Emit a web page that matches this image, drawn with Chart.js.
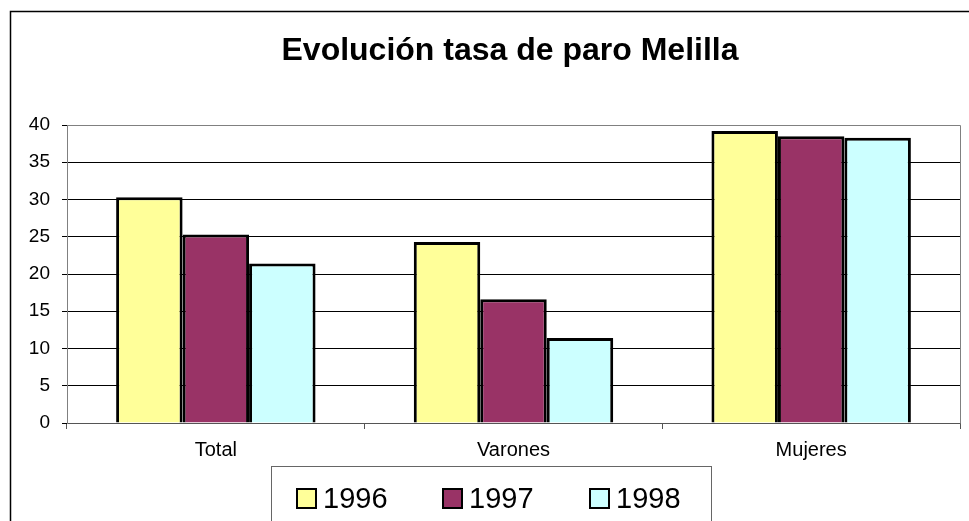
<!DOCTYPE html>
<html lang="es">
    <head>
        <meta charset="UTF-8" />
        <title>Evolución tasa de paro Melilla</title>
        <script src="https://cdn.jsdelivr.net/npm/chart.js"></script>
        <style>
            html,
            body {
                margin: 0;
                padding: 0;
                background: #fff;
                overflow: hidden;
            }
            .chart-container {
                position: relative;
                width: 969px;
                height: 521px;
            }
        </style>
    </head>
    <body>
        <div class="chart-container">
            <canvas id="paroChart"></canvas>
        </div>

        <script>
            const chartTitle = "Evolución tasa de paro Melilla";
            const categories = ["Total", "Varones", "Mujeres"];
            const years = ["1996", "1997", "1998"];
            const values1996 = [30.3, 24.3, 39.2];
            const values1997 = [25.3, 16.6, 38.5];
            const values1998 = [21.4, 11.4, 38.3];
            const yMin = 0;
            const yMax = 40;
            const yStep = 5;

            const fontFamily = "Arial, 'Liberation Sans', sans-serif";
            Chart.defaults.font.family = fontFamily;
            Chart.defaults.color = "#000";

            // outer frame, title, plot border and the boxed legend
            const framePlugin = {
                id: "frame",
                beforeDraw(chart) {
                    const ctx = chart.ctx;
                    ctx.save();
                    ctx.fillStyle = "#fff";
                    ctx.fillRect(0, 0, chart.width, chart.height);
                    ctx.strokeStyle = "#000";
                    ctx.lineWidth = 1.5;
                    ctx.strokeRect(10.5, 11.5, 2000, 2000);
                    ctx.restore();
                },
                afterDraw(chart) {
                    const ctx = chart.ctx;
                    const area = chart.chartArea;
                    ctx.save();

                    // top and right edge of plot area
                    ctx.strokeStyle = "#808080";
                    ctx.lineWidth = 1;
                    ctx.beginPath();
                    ctx.moveTo(Math.round(area.left) + 0.5, Math.round(area.top) + 0.5);
                    ctx.lineTo(Math.round(area.right) + 0.5, Math.round(area.top) + 0.5);
                    ctx.lineTo(Math.round(area.right) + 0.5, Math.round(area.bottom) + 0.5);
                    ctx.stroke();

                    // title
                    ctx.fillStyle = "#000";
                    ctx.font = "bold 32px " + fontFamily;
                    ctx.textAlign = "center";
                    ctx.textBaseline = "alphabetic";
                    ctx.fillText(chartTitle, 510, 60);

                    // legend box
                    ctx.strokeStyle = "#666";
                    ctx.lineWidth = 1;
                    ctx.strokeRect(271.5, 466.5, 440, 200);

                    ctx.font = "29px " + fontFamily;
                    ctx.textAlign = "left";
                    const itemX = [297, 443, 590];
                    chart.data.datasets.forEach((ds, i) => {
                        const x = itemX[i];
                        ctx.fillStyle = ds.backgroundColor;
                        ctx.fillRect(x, 489, 19, 19);
                        ctx.strokeStyle = "#000";
                        ctx.lineWidth = 2;
                        ctx.strokeRect(x, 489, 19, 19);
                        ctx.fillStyle = "#000";
                        ctx.fillText(ds.label, x + 26, 508);
                    });
                    ctx.restore();
                },
            };

            const ctx = document.getElementById("paroChart").getContext("2d");
            const colors = ["#FFFF99", "#993366", "#CCFFFF"];
            const seriesValues = [values1996, values1997, values1998];

            new Chart(ctx, {
                type: "bar",
                data: {
                    labels: categories,
                    datasets: years.map((year, i) => ({
                        label: year,
                        data: seriesValues[i],
                        backgroundColor: colors[i],
                        borderColor: "#000",
                        borderWidth: 3,
                        categoryPercentage: 0.67,
                        barPercentage: 1.0,
                    })),
                },
                options: {
                    responsive: true,
                    maintainAspectRatio: false,
                    animation: false,
                    layout: {
                        padding: { top: 125, left: 0, right: 9, bottom: 58 },
                    },
                    plugins: {
                        legend: { display: false },
                        title: { display: false },
                        tooltip: { enabled: false },
                    },
                    scales: {
                        x: {
                            afterFit(scale) {
                                scale.height = 40;
                            },
                            grid: {
                                offset: true,
                                drawOnChartArea: false,
                                tickLength: 6,
                                tickColor: "#555",
                            },
                            border: { color: "#555", width: 1 },
                            ticks: {
                                padding: 9,
                                font: { size: 20 },
                                color: "#000",
                            },
                        },
                        y: {
                            min: yMin,
                            max: yMax,
                            afterFit(scale) {
                                scale.width = 67;
                            },
                            grid: {
                                color: "#000",
                                lineWidth: 1,
                                tickLength: 5,
                                tickColor: "#000",
                            },
                            border: { color: "#808080", width: 1 },
                            ticks: {
                                stepSize: yStep,
                                padding: 12,
                                font: { size: 19 },
                                color: "#000",
                            },
                        },
                    },
                },
                plugins: [framePlugin],
            });
        </script>
    </body>
</html>
